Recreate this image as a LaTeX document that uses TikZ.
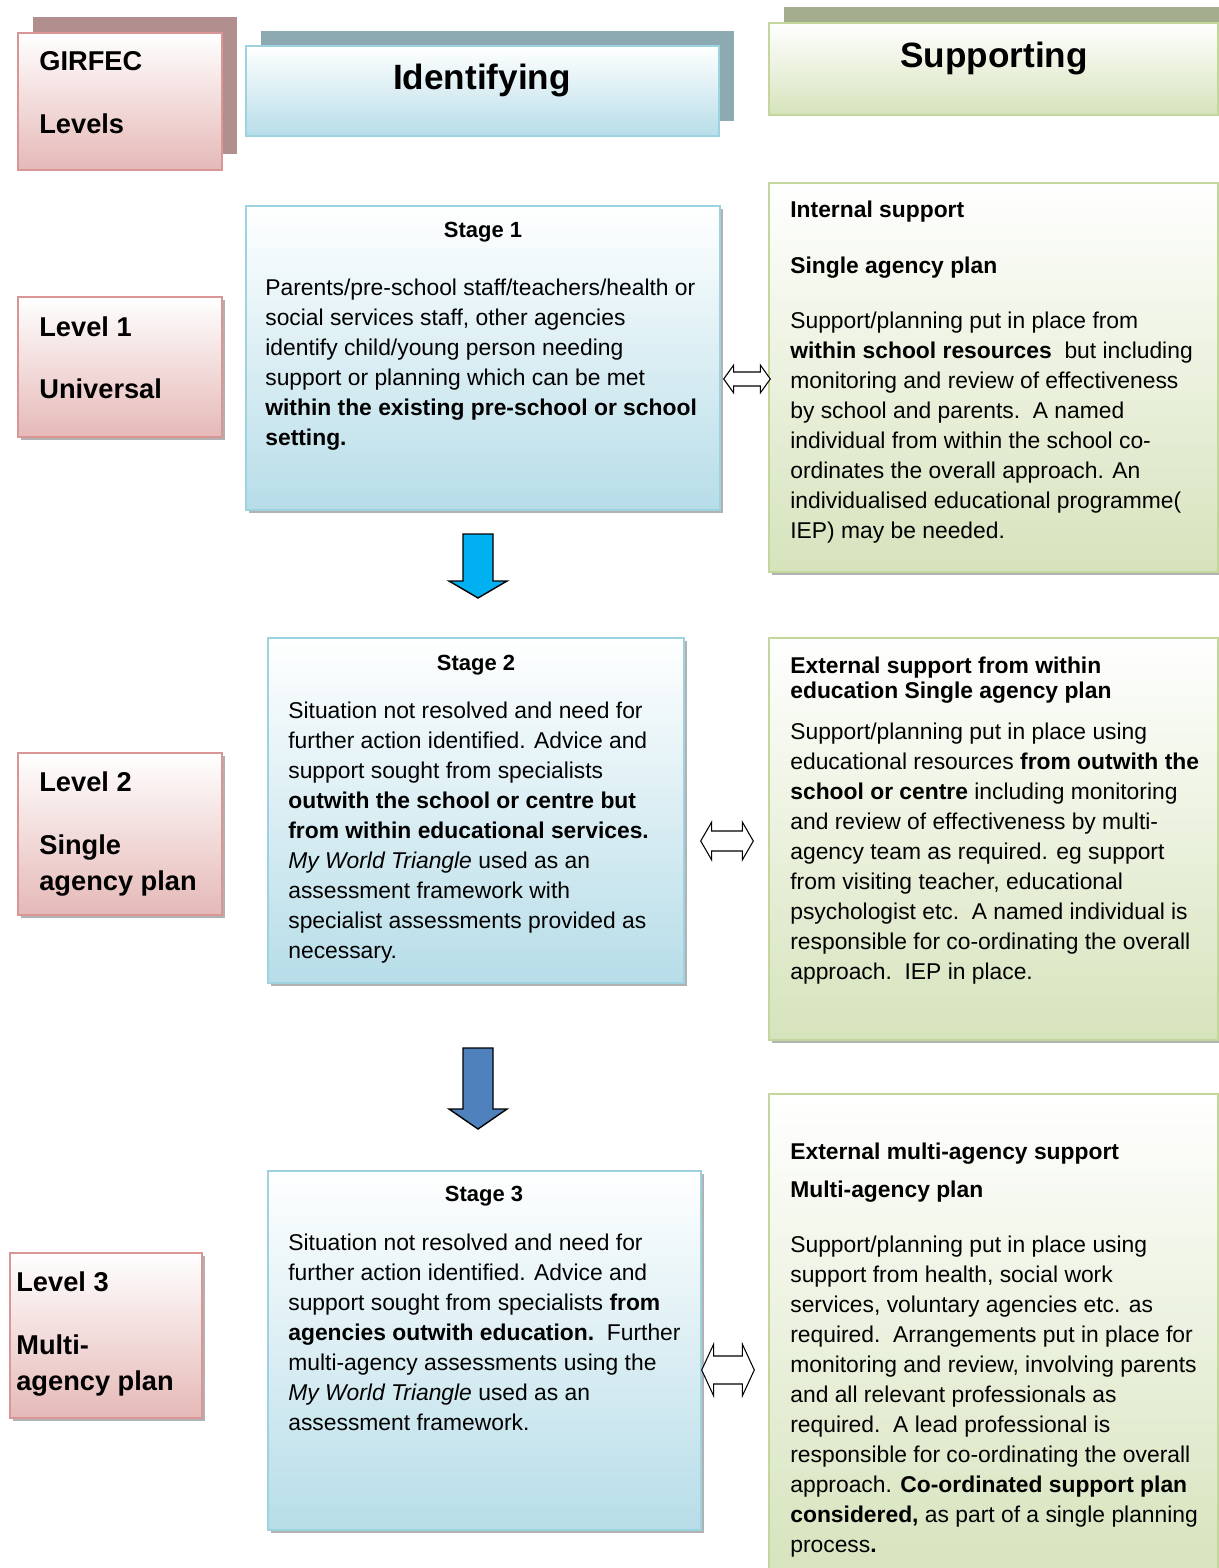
\documentclass[tikz,border=0pt]{standalone}
\usepackage{fontspec}
\setmainfont{Liberation Sans}
\usetikzlibrary{positioning, fit, shadows, calc}

\definecolor{pinkbot}{HTML}{E5B9B7}
\definecolor{pinkline}{HTML}{D99694}
\definecolor{pinkback}{HTML}{B18F8F}
\definecolor{bluebot}{HTML}{B7DDE8}
\definecolor{blueline}{HTML}{9DD3E0}
\definecolor{blueback}{HTML}{8DA9B1}
\definecolor{greenbot}{HTML}{D6E3BC}
\definecolor{greenline}{HTML}{C3D69B}
\definecolor{greenback}{HTML}{A4AE8E}
\definecolor{flowcyan}{HTML}{00B0F0}
\definecolor{flowblue}{HTML}{4F81BD}

% double block arrow between two boxes: left node, right node, y, left gap, right gap, head length, half shaft, half head
\newcommand{\linkarrow}[8]{%
  \coordinate (la) at ($(#1.east |- 0,#3)+(#4,0)$);
  \coordinate (ra) at ($(#2.west |- 0,#3)+(-#5,0)$);
  \draw[linkline] (la) -- ($(la)+(#6,-#8)$) -- ($(la)+(#6,-#7)$) -- ($(ra)+(-#6,-#7)$)
    -- ($(ra)+(-#6,-#8)$) -- (ra) -- ($(ra)+(-#6,#8)$) -- ($(ra)+(-#6,#7)$)
    -- ($(la)+(#6,#7)$) -- ($(la)+(#6,#8)$) -- cycle;}

% downward block arrow: top point, length, head length, colour
\newcommand{\flowarrow}[4]{%
  \draw[flowline, fill=#4] ($(#1)+(-15,0)$) -- ++(30,0) -- ++(0,{#2-#3}) -- ++(14,0)
    -- ($(#1)+(0,#2)$) -- ($(#1)+(-29,{#2-#3})$) -- ++(14,0) -- cycle;}

\begin{document}
\begin{tikzpicture}[x=0.02cm, y=-0.02cm, every node/.style={font=\normalfont}]
    % Define styles
    \tikzstyle{levelbox} = [rectangle, inner sep=0, draw=pinkline, line width=0.8pt, top color=white, bottom color=pinkbot, general shadow={fill=black!30, shadow xshift=0.06cm, shadow yshift=-0.06cm}]
    \tikzstyle{stagebox} = [rectangle, inner sep=0, draw=blueline, line width=0.8pt, top color=white, bottom color=bluebot, general shadow={fill=black!30, shadow xshift=0.06cm, shadow yshift=-0.06cm}]
    \tikzstyle{supportbox} = [rectangle, inner sep=0, draw=greenline, line width=0.8pt, top color=white, bottom color=greenbot, general shadow={fill=black!30, shadow xshift=0.06cm, shadow yshift=-0.06cm}]
    \tikzstyle{girfechead} = [rectangle, inner sep=0, draw=pinkline, line width=0.8pt, top color=white, bottom color=pinkbot, general shadow={fill=pinkback, shadow xshift=0.3cm, shadow yshift=0.32cm}]
    \tikzstyle{identhead} = [rectangle, inner sep=0, draw=blueline, line width=0.8pt, top color=white, bottom color=bluebot, general shadow={fill=blueback, shadow xshift=0.3cm, shadow yshift=0.3cm}]
    \tikzstyle{supporthead} = [rectangle, inner sep=0, draw=greenline, line width=0.8pt, top color=white, bottom color=greenbot, general shadow={fill=greenback, shadow xshift=0.3cm, shadow yshift=0.32cm}]
    \tikzstyle{headtext} = [inner sep=0, font=\fontsize{20}{24}\selectfont\bfseries]
    \tikzstyle{leveltext} = [inner sep=0, anchor=north west, align=left, font=\fontsize{15.5}{20.5}\selectfont\bfseries]
    \tikzstyle{stagetitle} = [inner sep=0, font=\fontsize{12.5}{15}\selectfont\bfseries]
    \tikzstyle{bodytext} = [inner sep=0, anchor=north west, align=left, font=\fontsize{13}{17.07}\selectfont]
    \tikzstyle{linkline} = [draw=black, fill=white, line width=0.6pt, line join=miter]
    \tikzstyle{flowline} = [draw=black, line width=0.8pt, line join=miter]

    \useasboundingbox (0,0) rectangle (1219,1568);

    % Headings
    \node (girfec) [girfechead, fit={(18,33) (222,170)}] {};
    \node (ident) [identhead, fit={(246,46) (719,136)}] {};
    \node (support) [supporthead, fit={(769,23) (1218,115)}] {};
    \node (girfectext) [leveltext] at (39,51) {GIRFEC\\[15.3pt]Levels};
    \node (identtext) [headtext] at (482,80.5) {Identifying};
    \node (supporttext) [headtext] at (994,58.5) {Supporting};

    % Level 1
    \node (level1) [levelbox, fit={(18,297) (222,437)}] {};
    \node (stage1) [stagebox, fit={(246,206) (720,510)}] {};
    \node (internal) [supportbox, fit={(769,183) (1218,572)}] {};
    \node (level1text) [leveltext] at (39,316) {Level 1\\[14.8pt]Universal};
    \node (stage1title) [stagetitle] at (483,232.5) {Stage 1};
    \node (stage1text) [bodytext] at (265,278.5) {Parents/pre-school staff/teachers/health or\\
        social services staff, other agencies\\
        identify child/young person needing\\
        support or planning which can be met\\
        \textbf{within the existing pre-school or school}\\
        \textbf{setting.}};
    \node (internaltext) [bodytext] at (790,200.5) {\textbf{Internal support}\\[14.8pt]
        \textbf{Single agency plan}\\[14.2pt]
        Support/planning put in place from\\
        \textbf{within school resources}\ \ but including\\
        monitoring and review of effectiveness\\
        by school and parents.\ \ A named\\
        individual from within the school co-\\
        ordinates the overall approach. An\\
        individualised educational programme(\\
        IEP) may be needed.};

    % Level 2
    \node (level2) [levelbox, fit={(18,753) (222,915)}] {};
    \node (stage2) [stagebox, fit={(268,638) (684,983)}] {};
    \node (external) [supportbox, fit={(769,638) (1218,1040)}] {};
    \node (level2text) [leveltext] at (39,771) {Level 2\\[15.4pt]Single\\agency plan};
    \node (stage2title) [stagetitle] at (476,665.5) {Stage 2};
    \node (stage2text) [bodytext] at (288,701.5) {Situation not resolved and need for\\
        further action identified. Advice and\\
        support sought from specialists\\
        \textbf{outwith the school or centre but}\\
        \textbf{from within educational services.}\\
        \textit{My World Triangle} used as an\\
        assessment framework with\\
        specialist assessments provided as\\
        necessary.};
    \node (externaltext) [bodytext] at (790,656.5) {\textbf{External support from within}\\[-2.9pt]
        \textbf{education Single agency plan}\\[6.2pt]
        Support/planning put in place using\\
        educational resources \textbf{from outwith the}\\
        \textbf{school or centre} including monitoring\\
        and review of effectiveness by multi-\\
        agency team as required. eg support\\
        from visiting teacher, educational\\
        psychologist etc.\ \ A named individual is\\
        responsible for co-ordinating the overall\\
        approach.\ \ IEP in place.};

    % Level 3
    \node (level3) [levelbox, fit={(10,1253) (202,1418)}] {};
    \node (stage3) [stagebox, fit={(268,1171) (701,1530)}] {};
    \node (multi) [supportbox, fit={(769,1094) (1218,1580)}] {};
    \node (level3text) [leveltext] at (16,1271) {Level 3\\[15.4pt]Multi-\\agency plan};
    \node (stage3title) [stagetitle] at (484,1196.5) {Stage 3};
    \node (stage3text) [bodytext] at (288,1233.5) {Situation not resolved and need for\\
        further action identified. Advice and\\
        support sought from specialists \textbf{from}\\
        \textbf{agencies outwith education.}\ \ Further\\
        multi-agency assessments using the\\
        \textit{My World Triangle} used as an\\
        assessment framework.};
    \node (multitext) [bodytext] at (790,1142.5) {\textbf{External multi-agency support}\\[4.5pt]
        \textbf{Multi-agency plan}\\[14.2pt]
        Support/planning put in place using\\
        support from health, social work\\
        services, voluntary agencies etc. as\\
        required.\ \ Arrangements put in place for\\
        monitoring and review, involving parents\\
        and all relevant professionals as\\
        required.\ \ A lead professional is\\
        responsible for co-ordinating the overall\\
        approach. \textbf{Co-ordinated support plan}\\
        \textbf{considered,} as part of a single planning\\
        process\textbf{.}};

    % Links between identifying and supporting
    \linkarrow{stage1}{internal}{379}{3}{-2}{10}{7}{14}
    \linkarrow{stage2}{external}{841}{16}{15}{11}{10}{19}
    \linkarrow{stage3}{multi}{1370}{0}{14}{12}{14}{26}

    % Flow between stages
    \coordinate (flow1) at (478,534);
    \coordinate (flow2) at (478,1048);
    \flowarrow{flow1}{64}{17}{flowcyan}
    \flowarrow{flow2}{81}{20}{flowblue}
\end{tikzpicture}
\end{document}
